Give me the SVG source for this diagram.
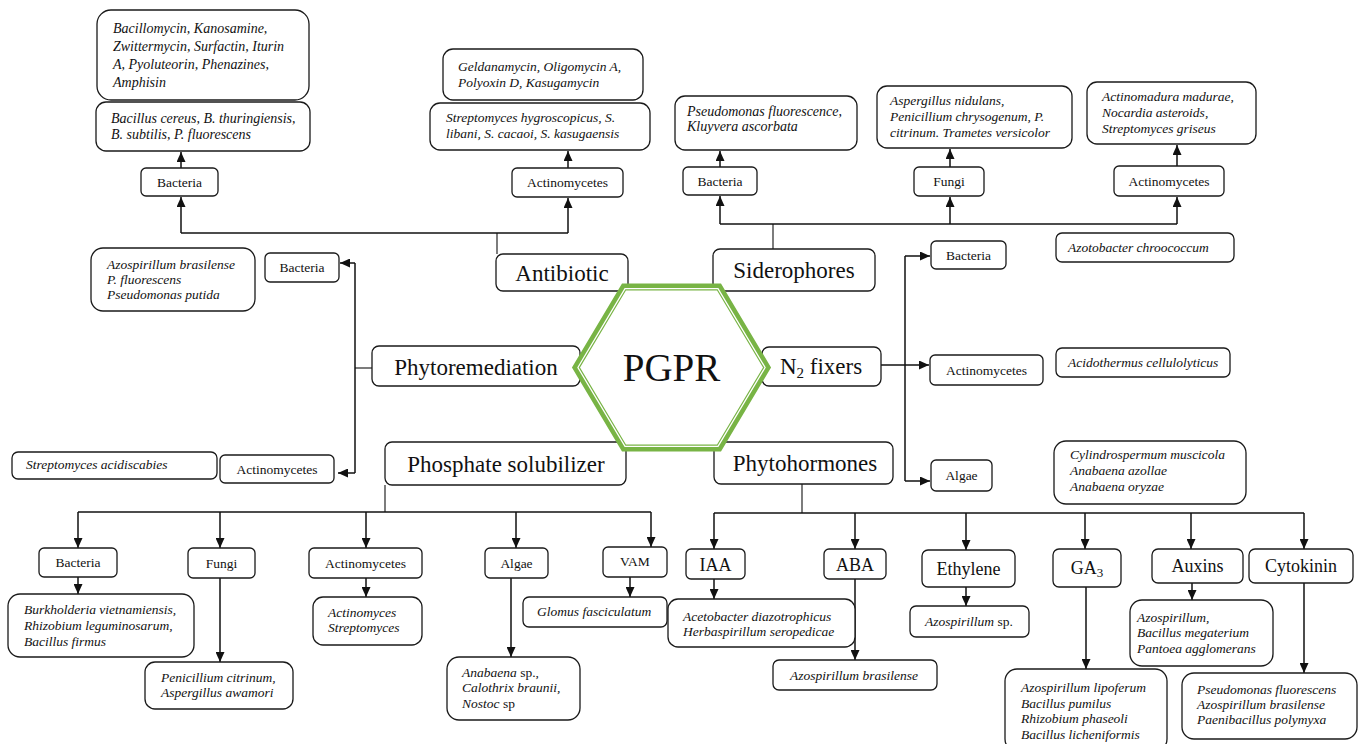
<svg xmlns="http://www.w3.org/2000/svg" width="1363" height="744" viewBox="0 0 1363 744">
<style>
.b{fill:#fff;stroke:#1a1a1a;stroke-width:1.3}
text{font-family:"Liberation Serif","Times New Roman",serif;fill:#111}
.s{font-size:13.5px;text-anchor:middle}
.m{font-size:18px;text-anchor:middle}
.l{font-size:23px;text-anchor:middle}
.i{font-size:13.5px;font-style:italic}
.i14{font-size:14px;font-style:italic}
.c{fill:none;stroke:#111;stroke-width:1.5}
.c1{fill:none;stroke:#111;stroke-width:1.1}
.a{marker-end:url(#ah)}
.n{font-style:normal}
</style>
<defs>
<marker id="ah" viewBox="0 0 10 9" refX="10" refY="4.5" markerWidth="10" markerHeight="9" markerUnits="userSpaceOnUse" orient="auto"><path d="M0,0 L10,4.5 L0,9 z" fill="#111"/></marker>
</defs>
<rect width="1363" height="744" fill="#fff"/>

<g id="connectors">
<!-- Antibiotic -->
<path class="c1" d="M497,254 V233"/>
<path class="c" d="M181,233 H568"/>
<path class="c a" d="M181,233 V197"/>
<path class="c a" d="M568,233 V198"/>
<path class="c a" d="M181,168 V152"/>
<path class="c a" d="M568,168 V151"/>
<!-- Siderophores -->
<path class="c1" d="M773,249 V224"/>
<path class="c" d="M720,224 H1177"/>
<path class="c a" d="M720,224 V196"/>
<path class="c a" d="M950,224 V197"/>
<path class="c a" d="M1177,224 V197"/>
<path class="c a" d="M720,167 V151"/>
<path class="c a" d="M950,167 V149"/>
<path class="c a" d="M1177,166 V145"/>
<!-- N2 fixers -->
<path class="c" d="M905,256 V481"/>
<path class="c a" d="M881,365 H929"/>
<path class="c a" d="M905,256 H930"/>
<path class="c a" d="M905,481 H930"/>
<!-- Phytoremediation -->
<path class="c1" d="M372,368 H355"/>
<path class="c" d="M355,263 V473"/>
<path class="c a" d="M355,263 H340"/>
<path class="c a" d="M355,473 H338"/>
<!-- Phosphate solubilizer -->
<path class="c1" d="M385,485 V512"/>
<path class="c" d="M78,512 H651"/>
<path class="c a" d="M78,512 V548"/>
<path class="c a" d="M220,512 V548"/>
<path class="c a" d="M366,512 V548"/>
<path class="c a" d="M516,512 V548"/>
<path class="c a" d="M651,512 V547"/>
<path class="c a" d="M78,577 V594"/>
<path class="c a" d="M220,578 V662"/>
<path class="c a" d="M366,578 V597"/>
<path class="c a" d="M511,578 V657"/>
<path class="c a" d="M630,577 V597"/>
<!-- Phytohormones -->
<path class="c1" d="M802,484 V513"/>
<path class="c" d="M714,513 H1304"/>
<path class="c a" d="M714,513 V549"/>
<path class="c a" d="M855,513 V549"/>
<path class="c a" d="M966,513 V550"/>
<path class="c a" d="M1085,513 V549"/>
<path class="c a" d="M1191,513 V549"/>
<path class="c a" d="M1304,513 V549"/>
<path class="c a" d="M714,579 V599"/>
<path class="c a" d="M855,579 V660"/>
<path class="c a" d="M966,587 V606"/>
<path class="c a" d="M1086,587 V669"/>
<path class="c a" d="M1192,583 V600"/>
<path class="c a" d="M1304,583 V673"/>
</g>

<!-- Antibiotic branch -->
<g id="ab-compounds-bacteria"><rect class="b" x="97" y="10" width="212" height="90" rx="14"/>
<text class="i14" x="113" y="33">Bacillomycin, Kanosamine,</text>
<text class="i14" x="113" y="51">Zwittermycin, Surfactin, Iturin</text>
<text class="i14" x="113" y="69">A, Pyoluteorin, Phenazines,</text>
<text class="i14" x="113" y="87">Amphisin</text></g>
<g id="ab-bacteria-species"><rect class="b" x="96" y="102" width="214" height="49" rx="10"/>
<text class="i14" x="111" y="123">Bacillus cereus, B. thuringiensis,</text>
<text class="i14" x="111" y="139">B. subtilis, P. fluorescens</text></g>
<g id="ab-bacteria"><rect class="b" x="141" y="168" width="77" height="28" rx="5"/><text class="s" x="179.5" y="187">Bacteria</text></g>
<g id="ab-compounds-actino"><rect class="b" x="443" y="49" width="200" height="51" rx="10"/>
<text class="i" x="458" y="71">Geldanamycin, Oligomycin A,</text>
<text class="i" x="458" y="87">Polyoxin D, Kasugamycin</text></g>
<g id="ab-actino-species"><rect class="b" x="430" y="103" width="220" height="47" rx="10"/>
<text class="i" x="446" y="122">Streptomyces hygroscopicus, S.</text>
<text class="i" x="446" y="138">libani, S. cacaoi, S. kasugaensis</text></g>
<g id="ab-actino"><rect class="b" x="512" y="168" width="111" height="29" rx="5"/><text class="s" x="567.5" y="187">Actinomycetes</text></g>
<g id="antibiotic"><rect class="b" x="496" y="254" width="132" height="37" rx="7"/><text class="l" x="562" y="281">Antibiotic</text></g>

<!-- Siderophores branch -->
<g id="sid-bacteria-species"><rect class="b" x="675" y="96" width="182" height="54" rx="10"/>
<text class="i14" x="687" y="116">Pseudomonas fluorescence,</text>
<text class="i14" x="687" y="131">Kluyvera ascorbata</text></g>
<g id="sid-bacteria"><rect class="b" x="683" y="167" width="74" height="28" rx="5"/><text class="s" x="720" y="186">Bacteria</text></g>
<g id="sid-fungi-species"><rect class="b" x="877" y="86" width="195" height="62" rx="10"/>
<text class="i" x="890" y="105">Aspergillus nidulans,</text>
<text class="i" x="890" y="121">Penicillium chrysogenum, P.</text>
<text class="i" x="890" y="137">citrinum. Trametes versicolor</text></g>
<g id="sid-fungi"><rect class="b" x="914" y="167" width="70" height="29" rx="5"/><text class="s" x="949" y="186">Fungi</text></g>
<g id="sid-actino-species"><rect class="b" x="1087" y="82" width="169" height="62" rx="10"/>
<text class="i" x="1102" y="101">Actinomadura madurae,</text>
<text class="i" x="1102" y="117">Nocardia asteroids,</text>
<text class="i" x="1102" y="133">Streptomyces griseus</text></g>
<g id="sid-actino"><rect class="b" x="1114" y="166" width="110" height="30" rx="5"/><text class="s" x="1169" y="186">Actinomycetes</text></g>
<g id="siderophores"><rect class="b" x="713" y="249" width="162" height="42" rx="7"/><text class="l" x="794" y="278">Siderophores</text></g>

<!-- N2 fixers branch -->
<g id="n2-bacteria"><rect class="b" x="931" y="241" width="75" height="28" rx="5"/><text class="s" x="968.5" y="260">Bacteria</text></g>
<g id="n2-bacteria-species"><rect class="b" x="1056" y="233" width="178" height="29" rx="6"/><text class="i" x="1068" y="252">Azotobacter chroococcum</text></g>
<g id="n2-actino"><rect class="b" x="930" y="355" width="113" height="30" rx="5"/><text class="s" x="986.5" y="375">Actinomycetes</text></g>
<g id="n2-actino-species"><rect class="b" x="1056" y="348" width="174" height="29" rx="6"/><text class="i" x="1068" y="367">Acidothermus cellulolyticus</text></g>
<g id="n2-algae"><rect class="b" x="931" y="460" width="61" height="31" rx="5"/><text class="s" x="961.5" y="480">Algae</text></g>
<g id="n2-algae-species"><rect class="b" x="1054" y="441" width="192" height="63" rx="12"/>
<text class="i" x="1070" y="459">Cylindrospermum muscicola</text>
<text class="i" x="1070" y="475">Anabaena azollae</text>
<text class="i" x="1070" y="491">Anabaena oryzae</text></g>
<g id="n2-fixers"><rect class="b" x="762" y="347" width="119" height="39" rx="7"/><text class="l" x="821" y="374">N<tspan font-size="15" dy="4">2</tspan><tspan dy="-4"> fixers</tspan></text></g>

<!-- Phytoremediation branch -->
<g id="pr-bacteria-species"><rect class="b" x="91" y="248" width="164" height="63" rx="12"/>
<text class="i" x="107" y="269">Azospirillum brasilense</text>
<text class="i" x="107" y="284">P. fluorescens</text>
<text class="i" x="107" y="299">Pseudomonas putida</text></g>
<g id="pr-bacteria"><rect class="b" x="265" y="253" width="74" height="29" rx="5"/><text class="s" x="302" y="272">Bacteria</text></g>
<g id="pr-actino-species"><rect class="b" x="12" y="452" width="205" height="27" rx="6"/><text class="i" x="26" y="469">Streptomyces acidiscabies</text></g>
<g id="pr-actino"><rect class="b" x="220" y="455" width="114" height="28" rx="5"/><text class="s" x="277" y="474">Actinomycetes</text></g>
<g id="phytoremediation"><rect class="b" x="372" y="346" width="208" height="40" rx="7"/><text class="l" x="476" y="375">Phytoremediation</text></g>

<!-- Phosphate solubilizer branch -->
<g id="phosphate-solubilizer"><rect class="b" x="385" y="442" width="241" height="43" rx="7"/><text class="l" x="506" y="472">Phosphate solubilizer</text></g>
<g id="ps-bacteria"><rect class="b" x="39" y="548" width="78" height="29" rx="5"/><text class="s" x="78" y="567">Bacteria</text></g>
<g id="ps-bacteria-species"><rect class="b" x="8" y="594" width="186" height="63" rx="12"/>
<text class="i" x="24" y="614">Burkholderia vietnamiensis,</text>
<text class="i" x="24" y="630">Rhizobium leguminosarum,</text>
<text class="i" x="24" y="646">Bacillus firmus</text></g>
<g id="ps-fungi"><rect class="b" x="188" y="548" width="67" height="30" rx="5"/><text class="s" x="221.5" y="568">Fungi</text></g>
<g id="ps-fungi-species"><rect class="b" x="145" y="662" width="148" height="47" rx="10"/>
<text class="i" x="161" y="682">Penicillium citrinum,</text>
<text class="i" x="161" y="697">Aspergillus awamori</text></g>
<g id="ps-actino"><rect class="b" x="309" y="548" width="113" height="30" rx="5"/><text class="s" x="365.5" y="568">Actinomycetes</text></g>
<g id="ps-actino-species"><rect class="b" x="313" y="597" width="109" height="48" rx="10"/>
<text class="i" x="328" y="617">Actinomyces</text>
<text class="i" x="328" y="632">Streptomyces</text></g>
<g id="ps-algae"><rect class="b" x="485" y="548" width="63" height="30" rx="5"/><text class="s" x="516.5" y="568">Algae</text></g>
<g id="ps-algae-species"><rect class="b" x="447" y="657" width="133" height="63" rx="12"/>
<text class="i" x="462" y="677">Anabaena<tspan class="n"> sp.,</tspan></text>
<text class="i" x="462" y="692">Calothrix braunii,</text>
<text class="i" x="462" y="708">Nostoc<tspan class="n"> sp</tspan></text></g>
<g id="ps-vam"><rect class="b" x="603" y="547" width="64" height="30" rx="5"/><text class="s" x="635" y="566">VAM</text></g>
<g id="ps-vam-species"><rect class="b" x="523" y="597" width="144" height="30" rx="6"/><text class="i" x="537" y="616">Glomus fasciculatum</text></g>

<!-- Phytohormones branch -->
<g id="phytohormones"><rect class="b" x="714" y="442" width="179" height="42" rx="7"/><text class="l" x="805" y="471">Phytohormones</text></g>
<g id="ph-iaa"><rect class="b" x="686" y="549" width="59" height="30" rx="5"/><text class="m" x="715.5" y="571">IAA</text></g>
<g id="ph-iaa-species"><rect class="b" x="668" y="599" width="187" height="48" rx="10"/>
<text class="i" x="683" y="621">Acetobacter diazotrophicus</text>
<text class="i" x="683" y="636">Herbaspirillum seropedicae</text></g>
<g id="ph-aba"><rect class="b" x="824" y="549" width="62" height="30" rx="5"/><text class="m" x="855" y="571">ABA</text></g>
<g id="ph-aba-species"><rect class="b" x="773" y="660" width="164" height="30" rx="6"/><text class="i" x="790" y="680">Azospirillum brasilense</text></g>
<g id="ph-ethylene"><rect class="b" x="922" y="550" width="93" height="37" rx="6"/><text class="m" x="968.5" y="575">Ethylene</text></g>
<g id="ph-ethylene-species"><rect class="b" x="910" y="606" width="119" height="31" rx="6"/><text class="i" x="925" y="626">Azospirillum<tspan class="n"> sp.</tspan></text></g>
<g id="ph-ga3"><rect class="b" x="1053" y="549" width="68" height="38" rx="6"/><text class="m" x="1087" y="574">GA<tspan font-size="13" dy="3">3</tspan></text></g>
<g id="ph-ga3-species"><rect class="b" x="1005" y="669" width="162" height="82" rx="12"/>
<text class="i" x="1021" y="692">Azospirillum lipoferum</text>
<text class="i" x="1021" y="707.5">Bacillus pumilus</text>
<text class="i" x="1021" y="723">Rhizobium phaseoli</text>
<text class="i" x="1021" y="738.5">Bacillus licheniformis</text></g>
<g id="ph-auxins"><rect class="b" x="1152" y="549" width="91" height="34" rx="6"/><text class="m" x="1197.5" y="572">Auxins</text></g>
<g id="ph-auxins-species"><rect class="b" x="1130" y="600" width="143" height="66" rx="12"/>
<text class="i" x="1137" y="622">Azospirillum,</text>
<text class="i" x="1137" y="637">Bacillus megaterium</text>
<text class="i" x="1137" y="653">Pantoea agglomerans</text></g>
<g id="ph-cytokinin"><rect class="b" x="1249" y="549" width="104" height="34" rx="6"/><text class="m" x="1301" y="572">Cytokinin</text></g>
<g id="ph-cytokinin-species"><rect class="b" x="1182" y="673" width="175" height="66" rx="12"/>
<text class="i" x="1197" y="694">Pseudomonas fluorescens</text>
<text class="i" x="1197" y="709">Azospirillum brasilense</text>
<text class="i" x="1197" y="724">Paenibacillus polymyxa</text></g>

<!-- Center -->
<g id="pgpr">
<polygon points="576,367.5 624,287 719,287 767,367.5 719,448 624,448" fill="#fff" stroke="#78b445" stroke-width="7"/>
<polygon points="577.9,367.5 625,288.6 718,288.6 765.1,367.5 718,446.4 625,446.4" fill="none" stroke="#fff" stroke-width="1.3"/>
<text x="671.5" y="381" font-size="39" text-anchor="middle">PGPR</text>
</g>
</svg>
